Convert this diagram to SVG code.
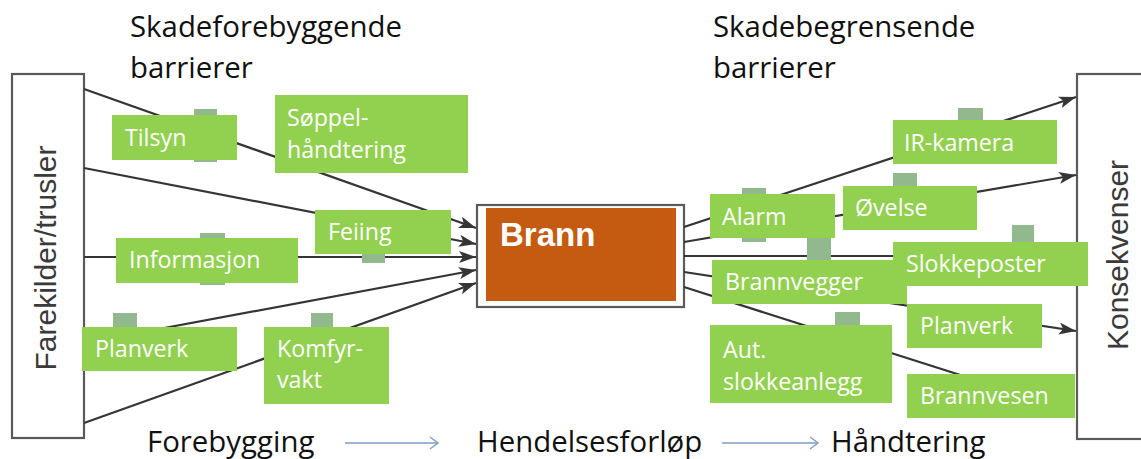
<svg xmlns="http://www.w3.org/2000/svg" width="1141" height="459" viewBox="0 0 1141 459">
<style>
.hdr{font-family:"Open Sans","Noto Sans",sans-serif;font-size:29.4px;fill:#111}
.side{font-family:"Liberation Sans",Arial,sans-serif;font-size:30px;fill:#3a3a3a}
.bx{fill:#92D050}
.bt{font-family:"Open Sans","Noto Sans",sans-serif;font-size:23.2px;fill:#fff}
.icon{fill:#92b98e}
.ln{stroke:#353535;stroke-width:2.2;fill:none}
.frame{fill:#fff;stroke:#5a5a5a;stroke-width:2.2}
.flow{stroke:#7f9ec4;stroke-width:1.4;fill:none}
</style>
<defs>
<marker id="ah" markerUnits="userSpaceOnUse" markerWidth="20" markerHeight="14" refX="17" refY="6" orient="auto">
<path d="M0,0 L17,6 L0,12 L4,6 Z" fill="#353535"/>
</marker>
<marker id="oh" markerUnits="userSpaceOnUse" markerWidth="12" markerHeight="16" refX="9" refY="7" orient="auto">
<path d="M1,1 L9,7 L1,13" fill="none" stroke="#7f9ec4" stroke-width="1.4"/>
</marker>
</defs>
<rect width="1141" height="459" fill="#fff"/>

<g id="headers">
<text class="hdr" x="130" y="37">Skadeforebyggende</text>
<text class="hdr" x="130" y="78">barrierer</text>
<text class="hdr" x="713" y="37">Skadebegrensende</text>
<text class="hdr" x="713" y="78">barrierer</text>
</g>

<g id="farekilder">
<rect class="frame" x="12" y="74" width="72" height="364"/>
<text class="side" transform="translate(56,258) rotate(-90)" text-anchor="middle" font-size="30.5">Farekilder/trusler</text>
</g>
<g id="konsekvenser">
<rect class="frame" x="1077" y="74" width="80" height="365"/>
<text class="side" transform="translate(1128,255) rotate(-90)" text-anchor="middle">Konsekvenser</text>
</g>
<g id="brann">
<rect class="frame" x="477" y="205" width="207" height="102"/>
<rect x="486" y="208" width="190" height="93" fill="#C55A11"/>
<text x="500" y="246" font-family="'Liberation Sans',Arial,sans-serif" font-weight="bold" font-size="33" fill="#fff">Brann</text>
</g>

<g id="connectors">
<line class="ln" x1="84" y1="89" x2="476" y2="228" marker-end="url(#ah)"/>
<line class="ln" x1="84" y1="168" x2="476" y2="244" marker-end="url(#ah)"/>
<line class="ln" x1="84" y1="257" x2="476" y2="257" marker-end="url(#ah)"/>
<line class="ln" x1="84" y1="343" x2="476" y2="270" marker-end="url(#ah)"/>
<line class="ln" x1="84" y1="423" x2="476" y2="283" marker-end="url(#ah)"/>
<line class="ln" x1="684" y1="227" x2="1076" y2="97" marker-end="url(#ah)"/>
<line class="ln" x1="684" y1="242" x2="1076" y2="175" marker-end="url(#ah)"/>
<line class="ln" x1="684" y1="256" x2="1076" y2="256" marker-end="url(#ah)"/>
<line class="ln" x1="684" y1="272" x2="1076" y2="331" marker-end="url(#ah)"/>
<line class="ln" x1="684" y1="287" x2="1070" y2="410"/>
<line class="flow" x1="345" y1="443" x2="438" y2="443" marker-end="url(#oh)"/>
<line class="flow" x1="722" y1="443" x2="818" y2="443" marker-end="url(#oh)"/>
</g>

<g id="barrier-icons">
<rect class="icon" x="194" y="109" width="23" height="53"/>
<rect class="icon" x="200" y="233" width="25" height="52"/>
<rect class="icon" x="362" y="235" width="23" height="28"/>
<rect class="icon" x="113" y="313" width="24" height="28"/>
<rect class="icon" x="311" y="313" width="22" height="28"/>
<rect class="icon" x="742" y="188" width="24" height="54"/>
<rect class="icon" x="807" y="237" width="24" height="26"/>
<rect class="icon" x="893" y="173" width="24" height="28"/>
<rect class="icon" x="958" y="108" width="25" height="26"/>
<rect class="icon" x="1012" y="225" width="22" height="26"/>
<rect class="icon" x="835" y="312" width="25" height="26"/>
</g>

<g id="tilsyn"><rect class="bx" x="112" y="115" width="125" height="45"/><text class="bt" x="125" y="146">Tilsyn</text></g>
<g id="soppel"><rect class="bx" x="275" y="95" width="193" height="78"/><text class="bt" x="287" y="126">Søppel-</text><text class="bt" x="287" y="158">håndtering</text></g>
<g id="feiing"><rect class="bx" x="315" y="210" width="136" height="44"/><text class="bt" x="328" y="240">Feiing</text></g>
<g id="informasjon"><rect class="bx" x="116" y="238" width="182" height="45"/><text class="bt" x="129" y="268">Informasjon</text></g>
<g id="planverk-l"><rect class="bx" x="82" y="327" width="155" height="44"/><text class="bt" x="95" y="357">Planverk</text></g>
<g id="komfyrvakt"><rect class="bx" x="264" y="327" width="125" height="77"/><text class="bt" x="277" y="357">Komfyr-</text><text class="bt" x="277" y="388">vakt</text></g>

<g id="alarm"><rect class="bx" x="710" y="194" width="125" height="44"/><text class="bt" x="722" y="225">Alarm</text></g>
<g id="ovelse"><rect class="bx" x="843" y="186" width="134" height="44"/><text class="bt" x="855" y="216">Øvelse</text></g>
<g id="irkamera"><rect class="bx" x="893" y="120" width="164" height="44"/><text class="bt" x="904" y="151">IR-kamera</text></g>
<g id="brannvegger"><rect class="bx" x="712" y="260" width="195" height="44"/><text class="bt" x="725" y="290">Brannvegger</text></g>
<g id="slokkeposter"><rect class="bx" x="893" y="242" width="195" height="44"/><text class="bt" x="906" y="272">Slokkeposter</text></g>
<g id="planverk-r"><rect class="bx" x="907" y="304" width="135" height="44"/><text class="bt" x="920" y="334">Planverk</text></g>
<g id="aut"><rect class="bx" x="710" y="325" width="182" height="78"/><text class="bt" x="723" y="358">Aut.</text><text class="bt" x="723" y="390">slokkeanlegg</text></g>
<g id="brannvesen"><rect class="bx" x="907" y="374" width="168" height="44"/><text class="bt" x="920" y="404">Brannvesen</text></g>

<g id="flow-labels">
<text class="hdr" x="147" y="452">Forebygging</text>
<text class="hdr" x="477" y="452">Hendelsesforløp</text>
<text class="hdr" x="831" y="452">Håndtering</text>
</g>
</svg>
